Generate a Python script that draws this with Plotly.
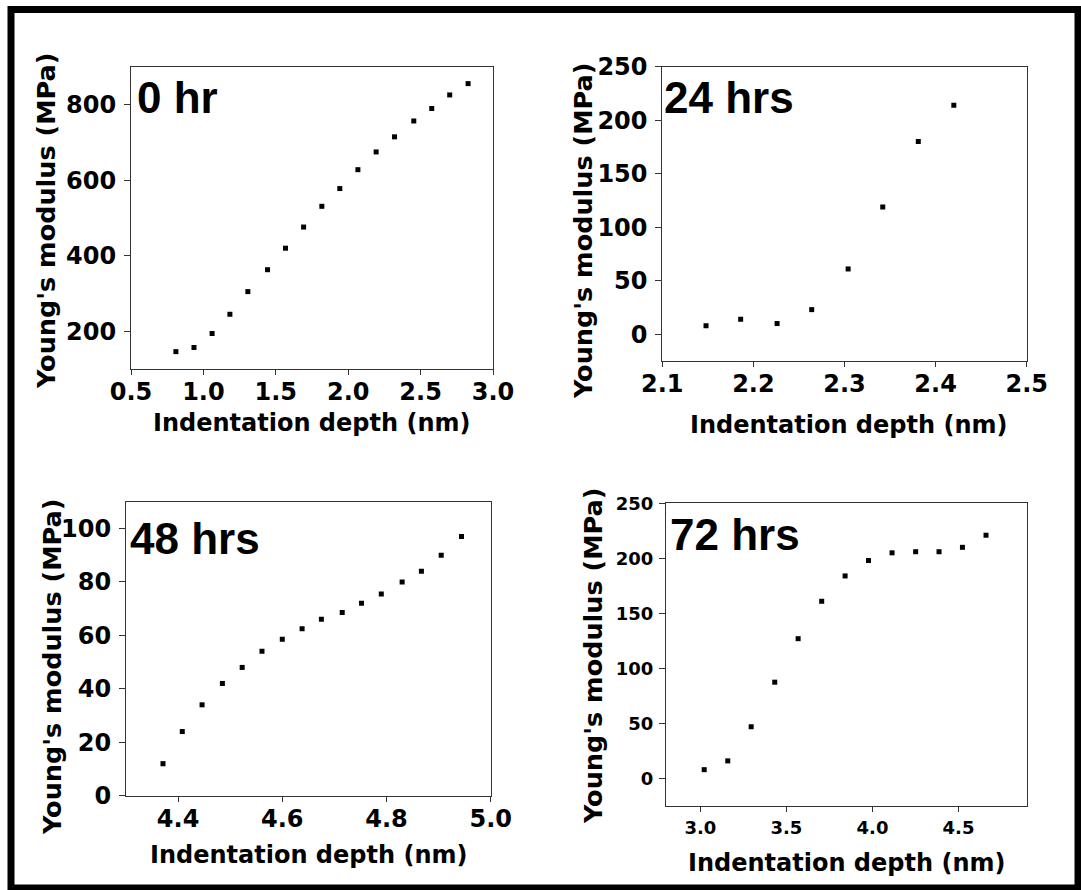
import plotly.graph_objects as go

W, H = 1081, 890

# Indentation depth (nm) and Young's modulus (MPa) for each incubation time
depth_0hr = [0.810, 0.935, 1.060, 1.183, 1.307, 1.443, 1.567, 1.692, 1.818,
             1.942, 2.067, 2.193, 2.320, 2.453, 2.577, 2.701, 2.828]
modulus_0hr = [146, 157, 194, 245, 305, 363, 420, 476, 531,
               578, 628, 675, 715, 757, 790, 826, 856]

depth_24hrs = [2.148, 2.186, 2.226, 2.264, 2.304, 2.342, 2.381, 2.420]
modulus_24hrs = [8, 14, 10, 23, 61, 119, 180, 214]

depth_48hrs = [4.371, 4.408, 4.446, 4.485, 4.523, 4.561, 4.600, 4.638,
               4.675, 4.715, 4.752, 4.790, 4.830, 4.867, 4.905, 4.944]
modulus_48hrs = [12, 24, 34, 42, 48, 54, 58.5, 62.5,
                 66, 68.5, 72, 75.5, 80, 84, 90, 97]

depth_72hrs = [3.022, 3.159, 3.295, 3.432, 3.568, 3.705, 3.841, 3.977,
               4.114, 4.251, 4.387, 4.523, 4.660]
modulus_72hrs = [8, 16, 47, 87.5, 127, 161, 184, 198,
                 205, 206, 206, 210, 221]

panel_labels = ["0 hr", "24 hrs", "48 hrs", "72 hrs"]
x_title = "Indentation depth (nm)"
y_title = "Young's modulus (MPa)"

x_ticks_0hr = [0.5, 1.0, 1.5, 2.0, 2.5, 3.0]
y_ticks_0hr = [200, 400, 600, 800]
x_ticks_24hrs = [2.1, 2.2, 2.3, 2.4, 2.5]
y_ticks_24hrs = [0, 50, 100, 150, 200, 250]
x_ticks_48hrs = [4.4, 4.6, 4.8, 5.0]
y_ticks_48hrs = [0, 20, 40, 60, 80, 100]
x_ticks_72hrs = [3.0, 3.5, 4.0, 4.5]
y_ticks_72hrs = [0, 50, 100, 150, 200, 250]


def px_x(p):
    return p / W


def px_y(p):
    return 1 - p / H


# panel layout in pixels: (left, right, top, bottom)
boxes = [
    (131, 493, 67, 369),
    (662.3, 1026.7, 66.7, 361),
    (126, 490.7, 501.7, 795.7),
    (666, 1027.3, 503.3, 806),
]
x_ranges = [[0.5, 3.0], [2.1, 2.5], [4.3, 5.0], [2.8, 4.9]]
y_ranges = [[100, 900], [-25, 250], [0, 110], [-25, 250]]
x_ticks = [x_ticks_0hr, x_ticks_24hrs, x_ticks_48hrs, x_ticks_72hrs]
y_ticks = [y_ticks_0hr, y_ticks_24hrs, y_ticks_48hrs, y_ticks_72hrs]
series = [
    (depth_0hr, modulus_0hr),
    (depth_24hrs, modulus_24hrs),
    (depth_48hrs, modulus_48hrs),
    (depth_72hrs, modulus_72hrs),
]

tick_font_big = dict(family="DejaVu Sans", size=24, color="black", weight="bold")
tick_font_small = dict(family="DejaVu Sans", size=18, color="black", weight="bold")
x_title_font = dict(family="DejaVu Sans", size=24, color="black", weight="bold")
y_title_font = dict(family="DejaVu Sans", size=25.5, color="black", weight="bold")
label_font = dict(family="Liberation Sans", size=44, color="black", weight="bold")

fig = go.Figure()
layout = dict(
    template="none",
    width=W, height=H, autosize=False,
    margin=dict(l=0, r=0, t=0, b=0, pad=0),
    paper_bgcolor="white", plot_bgcolor="white",
    showlegend=False,
)

for i, ((xs, ys), (l, r, t, b)) in enumerate(zip(series, boxes)):
    n = "" if i == 0 else str(i + 1)
    fig.add_trace(go.Scatter(
        x=xs, y=ys, mode="markers",
        marker=dict(symbol="square", size=5, color="black", line=dict(width=0)),
        xaxis="x" + n, yaxis="y" + n,
    ))
    small = i == 3
    tf = tick_font_small if small else tick_font_big
    layout["xaxis" + n] = dict(
        domain=[px_x(l), px_x(r)], anchor="y" + n, range=x_ranges[i],
        tickvals=x_ticks[i], tickformat=".1f", ticks="outside", ticklen=5,
        tickwidth=1, tickcolor="#333", showline=True, linecolor="#333",
        linewidth=1, mirror=True, showgrid=False, zeroline=False,
        tickfont=tf, automargin=False,
        ticklabelstandoff=0 if small else -4,
    )
    layout["yaxis" + n] = dict(
        domain=[px_y(b), px_y(t)], anchor="x" + n, range=y_ranges[i],
        tickvals=y_ticks[i], ticks="outside", ticklen=6,
        tickwidth=1, tickcolor="#333", showline=True, linecolor="#333",
        linewidth=1, mirror=True, showgrid=False, zeroline=False,
        tickfont=tf, automargin=False,
        ticklabelstandoff=2 if small else 3,
    )

fig.update_layout(**layout)

# axis titles and panel labels, positioned in pixels
x_title_pos = [(311, 423), (848, 425), (308, 855), (846, 863)]
y_title_pos = [(46, 221), (583, 231), (52, 667), (593, 656)]
label_pos = [(135, 97), (662, 98), (128, 538), (668, 534)]

for (xp, yp) in x_title_pos:
    fig.add_annotation(text=x_title, xref="paper", yref="paper",
                       x=px_x(xp), y=px_y(yp), xanchor="center", yanchor="middle",
                       showarrow=False, font=x_title_font)
for (xp, yp) in y_title_pos:
    fig.add_annotation(text=y_title, xref="paper", yref="paper", textangle=-90,
                       x=px_x(xp), y=px_y(yp), xanchor="center", yanchor="middle",
                       showarrow=False, font=y_title_font)
for lab, (xp, yp) in zip(panel_labels, label_pos):
    fig.add_annotation(text=lab, xref="paper", yref="paper",
                       x=px_x(xp), y=px_y(yp), xanchor="left", yanchor="middle",
                       showarrow=False, font=label_font)

# heavy outer frame
fig.add_shape(type="rect", xref="paper", yref="paper",
              x0=px_x(11), x1=px_x(1078), y0=px_y(888), y1=px_y(9.5),
              line=dict(color="black", width=7), fillcolor="rgba(0,0,0,0)")

fig.write_html("out.html")
